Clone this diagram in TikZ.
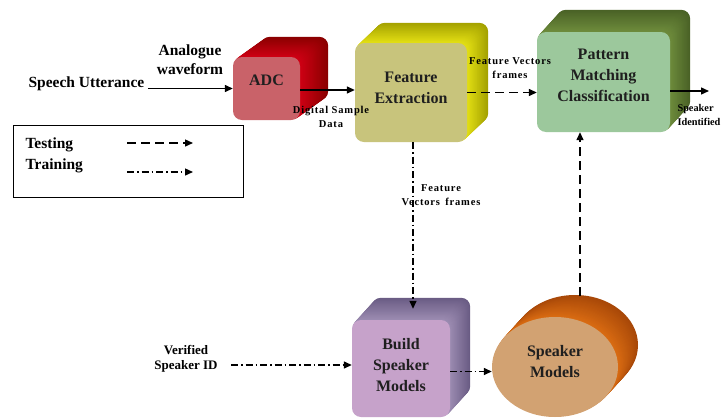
\documentclass[tikz,border=0pt]{standalone}
\usepackage{fontspec}
\setmainfont{Liberation Serif}
\newfontfamily\lblfont[LetterSpace=8]{Liberation Serif}
\usetikzlibrary{arrows.meta,backgrounds,shapes.geometric}

\definecolor{adcF}{HTML}{C96269}
\definecolor{adcD}{HTML}{8A0000}
\definecolor{adcS}{HTML}{D00014}
\definecolor{feF}{HTML}{C8C47C}
\definecolor{feD}{HTML}{A4A200}
\definecolor{feS}{HTML}{E4E014}
\definecolor{pmF}{HTML}{9CC89C}
\definecolor{pmD}{HTML}{4A6226}
\definecolor{pmS}{HTML}{6E8C3C}
\definecolor{bsF}{HTML}{C6A2CA}
\definecolor{bsD}{HTML}{6A5C84}
\definecolor{bsS}{HTML}{9C8CB2}
\definecolor{smF}{HTML}{D2A272}
\definecolor{smD}{HTML}{A84808}
\definecolor{smS}{HTML}{DA6C12}

\tikzset{
  arr/.style={line width=1.4pt, -{Triangle[length=8pt,width=7pt]}},
  testing/.style={arr, dash pattern=on 9pt off 5pt},
  training/.style={arr, dash pattern=on 7pt off 3pt on 1.5pt off 3pt},
  frontbox/.style={draw=none, rounded corners=9pt, inner sep=0pt, align=center,
    font=\fontsize{16}{21}\selectfont\bfseries, text=black!88},
  txt/.style={align=center, font=\fontsize{15.5}{19}\selectfont\bfseries},
  lbl/.style={align=center, font=\lblfont\fontsize{10.5}{14}\selectfont\bfseries},
}

% extrusion of a rounded box: node, dx, dy, back colour, side colour
\newcommand\extrudebox[5]{%
  \foreach \k in {24,23,...,1}{%
    \pgfmathsetmacro\tt{\k/24}%
    \pgfmathsetmacro\pc{100*\tt}%
    \colorlet{extc}{#4!\pc!#5}%
    \fill[extc, rounded corners=9pt]
      ([shift={({\tt*(#2)},{\tt*(#3)})}]#1.south west) rectangle
      ([shift={({\tt*(#2)},{\tt*(#3)})}]#1.north east);
  }%
}

\begin{document}
\begin{tikzpicture}[x=1pt,y=-1pt]
\useasboundingbox (0,0) rectangle (724,418);

% front faces
\node[frontbox, fill=adcF, minimum width=67, minimum height=63] (adc) at (266.5,88.5) {ADC\\[-5pt]};
\node[frontbox, fill=feF, minimum width=112, minimum height=99] (fe) at (411,92.5) {Feature\\Extraction\\[-11pt]};
\node[frontbox, fill=pmF, minimum width=133, minimum height=100] (pm) at (603.5,82) {Pattern\\Matching\\Classification\\[-7pt]};
\node[frontbox, fill=bsF, minimum width=98, minimum height=97] (bsm) at (401,368.5) {Build\\Speaker\\Models\\[-13pt]};
\node[ellipse, fill=smF, inner sep=0pt, minimum width=126, minimum height=100, align=center,
      font=\fontsize{16}{21}\selectfont\bfseries, text=black!88] (sm) at (555,367) {Speaker\\Models\\[-9pt]};

\begin{pgfonlayer}{background}
  \fill[white] (0,0) rectangle (724,418);
  \extrudebox{adc}{28}{-20}{adcD}{adcS}
  \extrudebox{fe}{21}{-20}{feD}{feS}
  \extrudebox{pm}{20}{-22}{pmD}{pmS}
  \extrudebox{bsm}{20}{-22}{bsD}{bsS}
  \foreach \k in {24,23,...,1}{%
    \pgfmathsetmacro\tt{\k/24}%
    \pgfmathsetmacro\pc{100*\tt}%
    \colorlet{extc}{smD!\pc!smS}%
    \fill[extc] ([shift={({\tt*20},{\tt*(-22)})}]sm.center) ellipse [x radius=63, y radius=50];
  }
\end{pgfonlayer}

% texts
\node[txt, anchor=west] (su) at (25,84) {Speech Utterance};
\node[txt] (aw) at (190,60) {Analogue\\waveform};
\node[lbl] (dsd) at (331,117) {Digital Sample\\Data};
\node[lbl] (fvf1) at (510,68) {Feature Vectors\\frames};
\node[lbl] (fvf2) at (441,195) {Feature\\Vectors\,\ frames};
\node[anchor=west, align=left, font=\fontsize{10.3}{14}\selectfont\bfseries] (sid) at (674,115) {Speaker\\Identified};
\node[txt, font=\fontsize{13}{15}\selectfont\bfseries] (vs) at (186,359) {Verified\\Speaker ID};

% legend
\node[draw=black, line width=1pt, minimum width=230, minimum height=72, inner sep=0pt] (leg) at (128,161) {};
\node[txt, anchor=west] (lt) at (22,145) {Testing};
\node[txt, anchor=west] (ltr) at (22,166) {Training};
\coordinate (ta) at (127,143);
\coordinate (tb) at (193,143);
\coordinate (tra) at (127,172);
\coordinate (trb) at (193,172);
\draw[testing] (ta) -- (tb);
\draw[training] (tra) -- (trb);

% connectors
\coordinate (out) at (709,91);
\draw[arr] (su.east |- adc.west) -- (adc.west);
\draw[arr] ([yshift=-1.5pt]adc.east) -- ([yshift=-1.5pt]adc.east -| fe.west);
\draw[testing] (fe.east) -- (fe.east -| pm.west);
\draw[arr] (pm.east |- out) -- (out);
\draw[training] ([xshift=2pt]fe.south) -- ([xshift=2pt,yshift=11pt]fe.south |- bsm.north);
\coordinate (smtop) at (580,296);
\draw[testing] (smtop) -- (smtop |- pm.south);
\draw[training] ([yshift=-3pt]bsm.east) -- ([yshift=-3pt]bsm.east -| sm.west);
\draw[training] ([xshift=10pt,yshift=-6pt]vs.east) -- ([yshift=-6pt]vs.east -| bsm.west);
\end{tikzpicture}
\end{document}
